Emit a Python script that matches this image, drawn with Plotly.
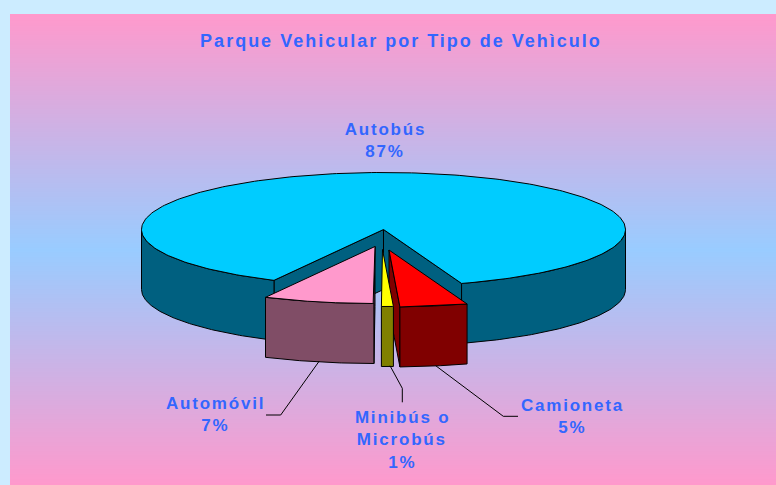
import numpy as np
import plotly.graph_objects as go

# Data
TITLE = "Parque Vehicular por Tipo de Vehìculo"
categories = ["Autobús", "Camioneta", "Minibús o<br>Microbús", "Automóvil"]
shares = [87.3, 4.51, 0.79, 7.4]
top_colors = ["#00CCFF", "#FF0000", "#FFFF00", "#FF99CC"]
wall_colors = ["#006080", "#800000", "#808000", "#804D66"]

# Pie geometry (pixels; the axes run 1:1 with the window)
CX, CY, RX, RY, DEPTH = 383.5, 229.5, 242, 57, 60
FIRST_ANGLE = 206.9
explode = [(0, 0), (5.5, 20.5), (-1, 20), (-8.5, 17)]
label_pos = [(385, 129), (572, 405), (402, 417), (215, 403)]
label_leading = 22.5
leaders = [
    None,
    ([435.7, 503.3, 518], [365.7, 416.3, 416.3]),
    ([390, 402.3, 402.3], [365.7, 388.3, 402.3]),
    ([319.3, 280.7, 266], [361, 415, 415]),
]
draw_order = [0, 1, 3, 2]

fig = go.Figure()

# Background gradient of the chart area
rows = np.arange(14, 485)
fig.add_trace(go.Heatmap(
    z=[[abs(r - 249.5) / 235.5] for r in rows], x0=393, dx=766, y0=14.5, dy=1,
    colorscale=[[0, "#99CCFF"], [1, "#FF99CC"]], zmin=0, zmax=1,
    showscale=False, hoverinfo="skip"))


def point(theta, ox, oy, dz=0):
    t = np.radians(theta)
    return CX + ox + RX * np.sin(t), CY + oy - RY * np.cos(t) + dz


def poly(xs, ys, color):
    fig.add_trace(go.Scatter(
        x=list(xs) + [xs[0]], y=list(ys) + [ys[0]], mode="lines", fill="toself",
        fillcolor=color, line=dict(color="#000000", width=1),
        hoverinfo="skip", showlegend=False))


spans = []
a = FIRST_ANGLE
for s in shares:
    spans.append((a, a + s * 3.6))
    a += s * 3.6

for i in draw_order:
    a, b = spans[i]
    ox, oy = explode[i]
    ax, ay = CX + ox, CY + oy
    # radial faces that look towards the viewer
    for theta, visible in ((a, np.sin(np.radians(a)) < 0), (b, np.sin(np.radians(b)) > 0)):
        if visible:
            px, py = point(theta, ox, oy)
            poly([ax, px, px, ax], [ay, py, py + DEPTH, ay + DEPTH], wall_colors[i])
    # outer wall (front half only)
    for k in range(-1, 3):
        lo, hi = max(a, 90 + 360 * k), min(b, 270 + 360 * k)
        if hi > lo:
            th = np.linspace(lo, hi, 80)
            xs, ys = point(th, ox, oy)
            poly(np.r_[xs, xs[::-1]], np.r_[ys, ys[::-1] + DEPTH], wall_colors[i])
    # top face
    th = np.linspace(a, b, 300)
    xs, ys = point(th, ox, oy)
    poly(np.r_[ax, xs], np.r_[ay, ys], top_colors[i])

# Leader lines
for leader in leaders:
    if leader:
        fig.add_trace(go.Scatter(x=leader[0], y=leader[1], mode="lines",
                                 line=dict(color="#000000", width=1),
                                 hoverinfo="skip", showlegend=False))

# Labels, one annotation per line for the exact leading
FONT = dict(family="Liberation Sans", size=17, color="#3366FF", weight="bold")
TITLE_FONT = dict(family="Liberation Sans", size=18, color="#3366FF", weight="bold")
annotations = []
for name, share, (x, y) in zip(categories, shares, label_pos):
    for n, line in enumerate(name.split("<br>") + [f"{round(share)}%"]):
        annotations.append(dict(x=x, y=y + n * label_leading, text=line, showarrow=False,
                                xref="x", yref="y", xanchor="center", yanchor="middle",
                                font=FONT))

fig.update_layout(
    width=776, height=485, margin=dict(l=0, r=0, t=0, b=0),
    paper_bgcolor="#CCECFF", plot_bgcolor="rgba(0,0,0,0)", showlegend=False,
    title=dict(text=TITLE, x=401 / 776, y=1 - 41 / 485, xanchor="center", yanchor="middle",
               font=TITLE_FONT),
    xaxis=dict(range=[0, 776], visible=False, fixedrange=True),
    yaxis=dict(range=[485, 0], visible=False, fixedrange=True),
    annotations=annotations,
)

post = """
document.body.style.margin = '0';
document.body.style.overflow = 'hidden';
var s = document.createElement('style');
s.textContent = '.annotation-text{letter-spacing:1.8px}.gtitle{letter-spacing:2px}';
document.head.appendChild(s);
"""
fig.write_html("out.html", post_script=post, config=dict(displayModeBar=False))
